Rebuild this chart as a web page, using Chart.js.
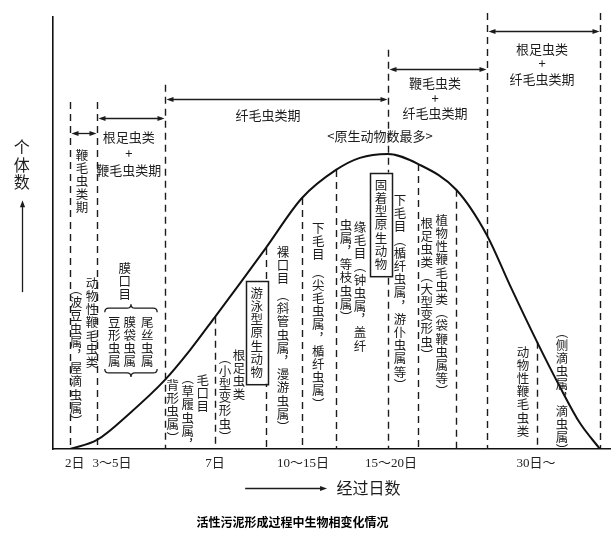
<!DOCTYPE html>
<html><head><meta charset="utf-8">
<script src="https://cdn.jsdelivr.net/npm/chart.js@4/dist/chart.umd.min.js"></script>
<style>html,body{margin:0;padding:0;background:#fff}#wrap{width:615px;height:534px;position:relative}</style>
</head><body><div id="wrap"><canvas id="c"></canvas></div>
<script>
// ---- curve: relative number of organisms along the stages ----
const stageX    = [3.05, 7.9, 13.8, 20.1, 24.6, 29.1, 33.6, 38.2, 44.7, 50.8, 55.1, 60.1, 65.5, 72.4, 77.9, 82.0, 86.9, 91.0, 94.6, 98.2];
const abundance = [0,    2.1, 8.3,  16.0, 22.9, 30.6, 38.4, 46.5, 58.1, 64.6, 67.4, 68.3, 66.0, 60.0, 49.5, 38.0, 24.8, 14.4, 6.0,  0];
// ---- x-axis ticks ----
const tickPos    = [3.9, 10.6, 29.1, 44.9, 60.7, 86.7];
const tickLabels = ['2日', '3～5日', '7日', '10～15日', '15～20日', '30日～'];
// ---- dashed dividers (null = up to curve) ----
const dividerX   = [3.05, 7.9, 20.1, 29.1, 38.2, 44.7, 50.8, 60.1, 65.5, 72.4, 77.9, 86.9, 98.2];
const dividerTop = [80.3, 80.3, 84.3, null, null, null, null, 92.4, null, null, 100.9, null, 100.9];
// ---- periods ----
const periodFrom   = [3.05, 7.9, 20.1, 60.1, 77.9];
const periodTo     = [7.9, 20.1, 60.1, 77.9, 98.2];
const periodArrowY = [73.1, 76.6, 81.0, 88.0, 96.8];

const hLabels = [
  {t:'根足虫类', x:13.6, y:72.2}, {t:'+', x:13.6, y:68.5}, {t:'鞭毛虫类期', x:13.6, y:64.6},
  {t:'纤毛虫类期', x:38.6, y:77.3},
  {t:'鞭毛虫类', x:68.6, y:84.7}, {t:'+', x:68.6, y:81.3}, {t:'纤毛虫类期', x:68.6, y:77.8},
  {t:'根足虫类', x:87.8, y:92.6}, {t:'+', x:87.8, y:89.4}, {t:'纤毛虫类期', x:87.8, y:85.6},
  {t:'<原生动物数最多>', x:58.7, y:72.5}
];
const vLabels = [
  {t:'鞭毛虫类期', x:5.2, y:68.1},
  {t:'︵波豆虫属︐屋滴虫属︶', x:4.13, y:37.0},
  {t:'动物性鞭毛虫类', x:7.0, y:38.4},
  {t:'膜口目', x:12.9, y:41.9},
  {t:'尾丝虫属', x:16.9, y:29.4},
  {t:'膜袋虫属', x:13.8, y:29.4},
  {t:'豆形虫属', x:11.0, y:29.4},
  {t:'毛口目', x:26.9, y:16.0},
  {t:'︵草履虫属︐', x:24.2, y:16.4},
  {t:'背形虫属︶', x:21.5, y:14.8},
  {t:'根足虫类', x:33.4, y:21.8},
  {t:'︵小型变形虫︶', x:30.9, y:21.1},
  {t:'游泳型原生动物', x:36.6, y:36.1, box:true},
  {t:'裸口目', x:41.3, y:45.6},
  {t:'︵斜管虫属︐漫游虫属︶', x:41.3, y:35.6},
  {t:'下毛目', x:47.6, y:51.2},
  {t:'︵尖毛虫属︐楯纤虫属︶', x:47.6, y:41.0},
  {t:'缘毛目︵钟虫属︐盖纤', x:55.1, y:51.4},
  {t:'虫属︐等枝虫属︶', x:52.6, y:51.9},
  {t:'固着型原生动物', x:58.9, y:61.1, box:true},
  {t:'下毛目︵楯纤虫属︐游仆虫属等︶', x:62.3, y:57.6},
  {t:'根足虫类︵大型变形虫︶', x:67.1, y:52.3},
  {t:'植物性鞭毛虫类︵袋鞭虫属等︶', x:69.8, y:53.0},
  {t:'动物性鞭毛虫类', x:84.4, y:22.5},
  {t:'︵侧滴虫属︐滴虫属︶', x:91.4, y:27.1}
];
const braces = [{x1:9.3, x2:18.7, y:32.6, up:true}, {x1:9.3, x2:18.7, y:17.6, up:false}];
const yTitle = {t:'个体数', x:-5.6, y:69.9, arrowFrom:36.3, arrowTo:57.6};
const xTitle = {t:'经过日数', arrowFrom:34.5, arrowTo:49.2, x:50.9, y:-9.0};
const caption = {t:'活性污泥形成过程中生物相变化情况', x:43.0, y:-16.9};

const CJK = '"Noto Sans CJK SC", "Noto Sans", sans-serif';
const INK = '#1c1c1c';

function head(ctx, x, y, dx, dy) {
  const L = 7, W = 2.6;
  ctx.beginPath();
  ctx.moveTo(x, y);
  ctx.lineTo(x - dx*L - dy*W, y - dy*L + dx*W);
  ctx.lineTo(x - dx*L + dy*W, y - dy*L - dx*W);
  ctx.closePath(); ctx.fill();
}

const under = {
  id: 'under',
  beforeDatasetsDraw(chart) {
    const {ctx, scales: {x, y}} = chart;
    const meta = chart.getDatasetMeta(0);
    ctx.save();
    ctx.strokeStyle = INK; ctx.lineWidth = 1.4; ctx.setLineDash([7, 5]);
    dividerX.forEach((dx, i) => {
      let top;
      if (dividerTop[i] == null) {
        const k = stageX.findIndex(s => Math.abs(s - dx) < 1e-6);
        top = meta.data[k].y;
      } else top = y.getPixelForValue(dividerTop[i]);
      const px = Math.round(x.getPixelForValue(dx)) + 0.5;
      ctx.beginPath(); ctx.moveTo(px, top); ctx.lineTo(px, y.getPixelForValue(0)); ctx.stroke();
    });
    ctx.restore();
  },
  afterDatasetsDraw(chart) {
    const {ctx, scales: {x, y}} = chart;
    const X = v => x.getPixelForValue(v), Y = v => y.getPixelForValue(v);
    ctx.save();
    ctx.fillStyle = INK; ctx.strokeStyle = INK;
    // period arrows
    ctx.lineWidth = 1.3;
    periodFrom.forEach((a, i) => {
      const x1 = Math.round(X(a)) + 1.5, x2 = Math.round(X(periodTo[i])) - 0.5, yy = Math.round(Y(periodArrowY[i])) + 0.5;
      ctx.beginPath(); ctx.moveTo(x1 + 3, yy); ctx.lineTo(x2 - 3, yy); ctx.stroke();
      head(ctx, x1, yy, -1, 0); head(ctx, x2, yy, 1, 0);
    });
    ctx.textAlign = 'center'; ctx.textBaseline = 'middle';
    // horizontal labels
    ctx.font = '13px ' + CJK;
    hLabels.forEach(l => ctx.fillText(l.t, X(l.x), Y(l.y)));
    // vertical labels
    const pitch = 13.2;
    vLabels.forEach(l => {
      const chars = [...l.t];
      const cx = X(l.x), cy = Y(l.y);
      if (l.box) {
        const h = (chars.length - 1) * pitch + 24;
        ctx.fillStyle = '#fff'; ctx.fillRect(cx - 11, cy - 12.5, 22, h);
        ctx.lineWidth = 1.5; ctx.strokeRect(Math.round(cx - 11) + 0.5, Math.round(cy - 12.5) + 0.5, 22, h);
        ctx.fillStyle = INK;
      }
      ctx.font = '12.5px ' + CJK;
      chars.forEach((ch, i) => ctx.fillText(ch, cx, cy + i * pitch));
    });
    // braces
    ctx.lineWidth = 1.3;
    braces.forEach(b => {
      const x1 = X(b.x1), x2 = X(b.x2), yy = Y(b.y), xm = (x1 + x2) / 2, s = b.up ? 1 : -1, r = 4;
      ctx.beginPath();
      ctx.moveTo(x1, yy + s*r);
      ctx.quadraticCurveTo(x1, yy, x1 + r, yy);
      ctx.lineTo(xm - r, yy);
      ctx.quadraticCurveTo(xm, yy, xm, yy - s*r);
      ctx.quadraticCurveTo(xm, yy, xm + r, yy);
      ctx.lineTo(x2 - r, yy);
      ctx.quadraticCurveTo(x2, yy, x2, yy + s*r);
      ctx.stroke();
    });
    // y title
    ctx.font = '16px ' + CJK;
    [...yTitle.t].forEach((ch, i) => ctx.fillText(ch, X(yTitle.x), Y(yTitle.y) + i * 17.5));
    const yx = Math.round(X(yTitle.x)) + 0.5;
    ctx.lineWidth = 1.3;
    ctx.beginPath(); ctx.moveTo(yx, Y(yTitle.arrowFrom)); ctx.lineTo(yx, Y(yTitle.arrowTo) + 4); ctx.stroke();
    head(ctx, yx, Y(yTitle.arrowTo), 0, -1);
    // x title
    const xy = Math.round(Y(xTitle.y)) + 0.5;
    ctx.beginPath(); ctx.moveTo(X(xTitle.arrowFrom), xy); ctx.lineTo(X(xTitle.arrowTo) - 4, xy); ctx.stroke();
    head(ctx, X(xTitle.arrowTo), xy, 1, 0);
    ctx.textAlign = 'left'; ctx.font = '16px ' + CJK;
    ctx.fillText(xTitle.t, X(xTitle.x), Y(xTitle.y));
    // caption
    ctx.textAlign = 'center'; ctx.font = 'bold 12px ' + CJK; ctx.fillStyle = '#000';
    ctx.fillText(caption.t, X(caption.x), Y(caption.y));
    ctx.restore();
  }
};

new Chart(document.getElementById('c'), {
  type: 'line',
  data: {
    datasets: [{
      data: stageX.map((v, i) => ({x: v, y: abundance[i]})),
      borderColor: '#111', borderWidth: 2, pointRadius: 0,
      cubicInterpolationMode: 'monotone', fill: false
    }]
  },
  options: {
    responsive: true, maintainAspectRatio: false, animation: false,
    layout: {padding: {top: 17, right: 5, left: 0, bottom: 0}},
    plugins: {legend: {display: false}, tooltip: {enabled: false}, title: {display: false}},
    scales: {
      x: {
        type: 'linear', min: 0, max: 100,
        grid: {display: false, drawTicks: false},
        border: {display: true, color: '#111', width: 1.6},
        afterBuildTicks: s => { s.ticks = tickPos.map(v => ({value: v})); },
        afterFit: s => { s.height = 85; },
        ticks: {autoSkip: false, maxRotation: 0, padding: 7, color: '#222',
          font: {family: '"Liberation Serif", "Noto Sans CJK SC", serif', size: 13},
          callback: (v, i) => tickLabels[i]}
      },
      y: {
        type: 'linear', min: 0, max: 100,
        grid: {display: false, drawTicks: false},
        border: {display: true, color: '#111', width: 1.6},
        ticks: {display: false},
        afterFit: s => { s.width = 53; }
      }
    }
  },
  plugins: [under]
});
</script>
</body></html>
